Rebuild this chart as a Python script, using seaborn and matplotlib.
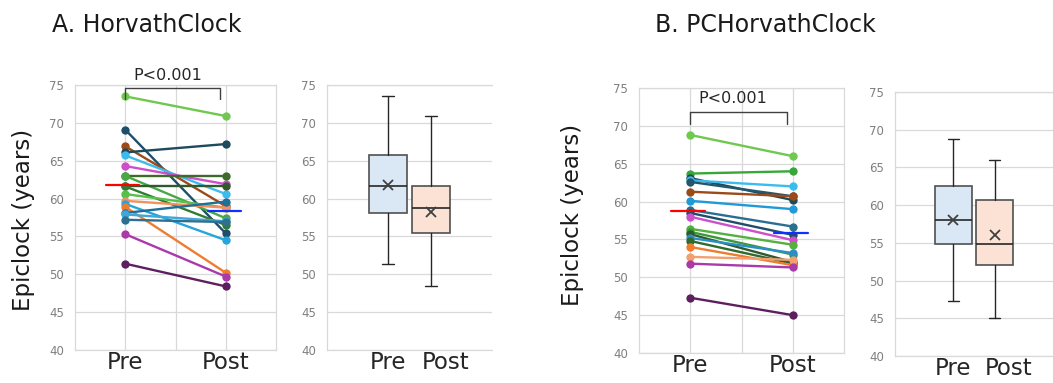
import numpy as np
import pandas as pd
import matplotlib.pyplot as plt
import seaborn as sns


# =====================================================
# DATA
# =====================================================

times = ["Pre", "Post"]
y_ticks = [40, 45, 50, 55, 60, 65, 70, 75]

horvath_pre = [73.5, 69.1, 66.9, 66.1, 65.7, 64.3, 63.0, 63.0, 61.7, 61.6,
               60.6, 59.7, 59.3, 58.9, 58.1, 57.9, 57.2, 55.3, 51.4]
horvath_post = [70.9, 55.4, 59.0, 67.2, 60.6, 61.9, 63.0, 57.4, 61.7, 56.5,
                58.8, 58.8, 54.5, 50.2, 59.6, 57.0, 56.9, 49.7, 48.4]
horvath_colors = ["#70c850", "#1f4e6b", "#9b4a18", "#1d4a5c", "#3cbced",
                  "#cc4fcc", "#3d6b2c", "#48a848", "#2e5a2e", "#2f7d32",
                  "#55c04a", "#f29060", "#23a5dd", "#ee7d31", "#1f6f9a",
                  "#40a6d8", "#2f6f8f", "#aa3aaa", "#5e1f5e"]
horvath_mean_lines = [61.8, 58.3]

pc_pre = [68.8, 63.7, 63.1, 62.8, 62.6, 61.3, 60.1, 58.9, 58.5, 58.0,
          56.4, 56.0, 55.7, 55.2, 54.8, 54.0, 52.7, 51.8, 47.3]
pc_post = [66.0, 64.0, 60.2, 62.0, 60.7, 60.7, 59.0, 56.7, 55.6, 54.9,
           54.3, 53.0, 52.0, 53.2, 51.8, 51.6, 52.3, 51.3, 45.0]
pc_colors = ["#70c850", "#37a837", "#1d4a5c", "#3cbced", "#24576e",
             "#9b4a18", "#1f9ad6", "#2a6f90", "#1f4e6b", "#cc4fcc",
             "#55b040", "#3a9a3a", "#2e5a2e", "#2a8fc8", "#2f6a2f",
             "#ee7d31", "#f2a070", "#aa3aaa", "#5e1f5e"]
pc_mean_lines = [58.7, 55.9]

box_fill = ["#dae8f5", "#fbe2d5"]

GRID = "#d9d9d9"
TICK_GRAY = "#7f7f7f"


# =====================================================
# HELPERS
# =====================================================

def style_axes(ax, right_spine=True):

    ax.set_ylim(40, 75)
    ax.set_yticks(y_ticks)
    ax.grid(axis="y", color=GRID, linewidth=0.9)
    ax.set_axisbelow(True)

    for name, spine in ax.spines.items():
        spine.set_color(GRID)
        spine.set_linewidth(0.9)

    ax.spines["right"].set_visible(right_spine)

    ax.tick_params(axis="y", length=0, pad=8,
                   labelsize=8.5, labelcolor=TICK_GRAY)
    ax.tick_params(axis="x", length=0, pad=1, labelsize=16.5)
    ax.set_xlabel("")
    ax.set_ylabel("")


def draw_paired(ax, pre, post, colors, mean_lines, p_text_y, bracket_y):

    n = len(pre)
    names = [f"s{i:02d}" for i in range(n)]

    df = pd.DataFrame({
        "subject": names * 2,
        "time": [0] * n + [1] * n,
        "value": list(pre) + list(post),
    })

    sns.lineplot(
        data=df,
        x="time",
        y="value",
        hue="subject",
        hue_order=names,
        palette=dict(zip(names, colors)),
        estimator=None,
        marker="o",
        markersize=6,
        markeredgewidth=0,
        linewidth=1.7,
        legend=False,
        ax=ax
    )

    # mean markers
    ax.plot([-0.19, 0.14], [mean_lines[0]] * 2,
            color="#ff0000", linewidth=1.6, zorder=5)
    ax.plot([0.82, 1.15], [mean_lines[1]] * 2,
            color="#1030ff", linewidth=1.6, zorder=5)

    ax.set_xlim(-0.5, 1.5)
    ax.set_xticks([0, 1])
    ax.set_xticklabels(times)
    ax.set_xticks([0.5], minor=True)
    ax.tick_params(axis="x", which="minor", length=0)
    ax.grid(axis="x", which="both", color=GRID, linewidth=0.9)

    style_axes(ax)

    # significance bracket
    top, leg = bracket_y
    ax.plot([0, 0, 0.94, 0.94], [leg, top, top, leg],
            color="#404040", linewidth=1.0, clip_on=False)
    ax.text(0.42, p_text_y, "P<0.001", ha="center", va="baseline",
            fontsize=11.5, color="#262626", clip_on=False)


def box_stats(values, label):

    v = np.asarray(values)
    q1, med, q3 = np.percentile(v, [25, 50, 75], method="weibull")

    return dict(label=label, med=med, q1=q1, q3=q3,
                whislo=v.min(), whishi=v.max(),
                mean=v.mean(), fliers=[])


def draw_box(ax, pre, post):

    stats = [box_stats(pre, times[0]), box_stats(post, times[1])]

    parts = ax.bxp(
        stats,
        positions=[-0.13, 0.13],
        widths=0.235,
        capwidths=0.07,
        showmeans=True,
        patch_artist=True,
        boxprops=dict(edgecolor="#505050", linewidth=1.2),
        medianprops=dict(color="#262626", linewidth=1.2),
        whiskerprops=dict(color="#262626", linewidth=1.0),
        capprops=dict(color="#262626", linewidth=1.0),
        meanprops=dict(marker="x", markeredgecolor="#404040",
                       markersize=7, markeredgewidth=1.3),
    )

    for patch, fill in zip(parts["boxes"], box_fill):
        patch.set_facecolor(fill)

    ax.set_xlim(-0.5, 0.5)
    ax.set_xticks([-0.13, 0.22])
    ax.set_xticklabels(times)

    style_axes(ax, right_spine=False)


# =====================================================
# FIGURE
# =====================================================

if __name__ == "__main__":

    sns.set_style("white")
    plt.rcParams["font.family"] = ["DejaVu Sans"]

    W, H = 1053, 383
    fig = plt.figure(figsize=(W / 100, H / 100), dpi=100)

    def px_axes(x0, y0, x1, y1):
        return fig.add_axes([x0 / W, 1 - y1 / H, (x1 - x0) / W, (y1 - y0) / H])

    ax_a1 = px_axes(75, 85, 276, 350)
    ax_a2 = px_axes(327, 85, 492, 350)
    ax_b1 = px_axes(639, 88, 844, 353)
    ax_b2 = px_axes(895, 92, 1053, 356)

    draw_paired(ax_a1, horvath_pre, horvath_post, horvath_colors,
                horvath_mean_lines, p_text_y=75.66, bracket_y=(74.56, 73.2))
    draw_box(ax_a2, horvath_pre, horvath_post)

    draw_paired(ax_b1, pc_pre, pc_post, pc_colors,
                pc_mean_lines, p_text_y=73.0, bracket_y=(71.8, 70.2))
    draw_box(ax_b2, pc_pre, pc_post)

    fig.text(52 / W, 1 - 32 / H, "A. HorvathClock",
             fontsize=17, ha="left", va="baseline", color="#1a1a1a")
    fig.text(655 / W, 1 - 32 / H, "B. PCHorvathClock",
             fontsize=17, ha="left", va="baseline", color="#1a1a1a")

    fig.text(24 / W, 1 - 220 / H, "Epiclock (years)", rotation=90,
             fontsize=16.5, ha="center", va="center", color="#1a1a1a")
    fig.text(572 / W, 1 - 215 / H, "Epiclock (years)", rotation=90,
             fontsize=16.5, ha="center", va="center", color="#1a1a1a")

    fig.savefig("out.png", dpi=100)
    plt.close(fig)
